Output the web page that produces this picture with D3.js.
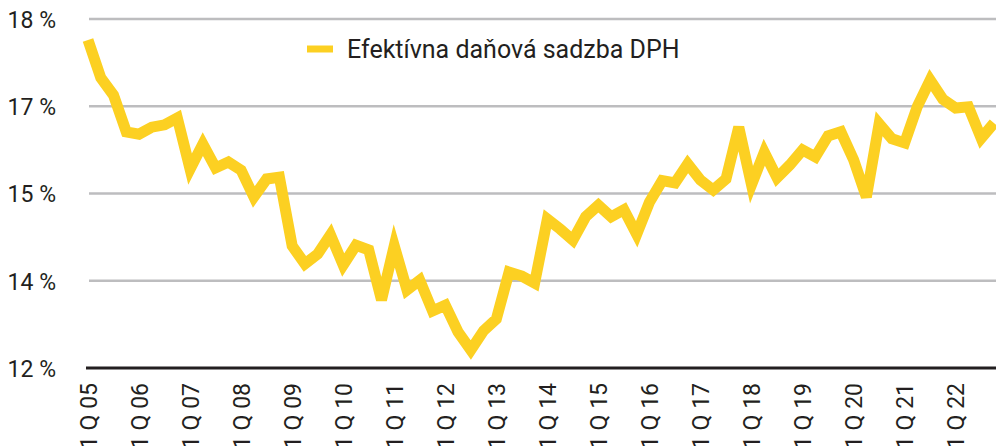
<!DOCTYPE html>
<html>
<head>
<meta charset="utf-8">
<script src="https://cdn.jsdelivr.net/npm/d3@7"></script>
<style>
  body { margin: 0; background: #fff; }
  svg { display: block; font-family: Roboto, "DejaVu Sans", sans-serif; }
</style>
</head>
<body>
<div class="chart"></div>
<script>
// years shown on the x axis, one point per quarter
const years = d3.range(2005, 2023)
const quarters = years.flatMap(y => [1, 2, 3, 4].map(q => `${q} Q ${String(y).slice(2)}`))

// efektívna daňová sadzba DPH, %
const rate = [
  17.64, 16.99, 16.69, 16.06, 16.02, 16.14, 16.18, 16.30,
  15.42, 15.85, 15.44, 15.54, 15.40, 14.94, 15.25, 15.28,
  14.10, 13.79, 13.96, 14.29, 13.77, 14.11, 14.03, 13.17,
  14.10, 13.34, 13.51, 12.98, 13.08, 12.62, 12.31, 12.64,
  12.84, 13.65, 13.58, 13.46, 14.56, 14.39, 14.20, 14.60,
  14.80, 14.60, 14.72, 14.30, 14.85, 15.22, 15.18, 15.51,
  15.23, 15.06, 15.25, 16.14, 15.15, 15.71, 15.27, 15.49,
  15.75, 15.63, 15.99, 16.06, 15.58, 14.94, 16.20, 15.94,
  15.87, 16.50, 16.95, 16.62, 16.47, 16.49, 15.95, 16.21
]

const yTicks = [12, 13.5, 15, 16.5, 18]
const yTickLabels = ["12 %", "14 %", "15 %", "17 %", "18 %"]
const legendLabel = "Efektívna daňová sadzba DPH"

const w = 996
const h = 446
const left = 88
const baseY = 368
const topY = 19
const yellow = "#fcd022"

const xScale = d3.scalePoint().domain(quarters).range([left, left + 71 * 12.76])
const yScale = d3.scaleLinear().domain([12, 18]).range([baseY, topY])

const svg = d3.select(".chart").append("svg").attr("width", w).attr("height", h)

// grid
svg.append("g").selectAll("line")
  .data(yTicks.slice(1))
  .enter()
  .append("line")
  .attr("x1", 89).attr("x2", w)
  .attr("y1", d => yScale(d)).attr("y2", d => yScale(d))
  .attr("stroke", "#bdbdbf")
  .attr("stroke-width", 2.5)

// y labels
const yAxis = d3.axisLeft(yScale).tickValues(yTicks).tickSize(0).tickPadding(0)
  .tickFormat((d, i) => yTickLabels[i])
const gy = svg.append("g").attr("transform", "translate(56,0)").call(yAxis)
gy.select(".domain").remove()
gy.selectAll("text").attr("font-size", 23).attr("fill", "#231f20").attr("dy", "0.36em")
  .attr("font-family", "Roboto")

// x axis with vertical quarter labels
const xAxis = d3.axisBottom(xScale).tickSize(0).tickPadding(0)
  .tickValues(quarters.filter((d, i) => i % 4 === 0))
const gx = svg.append("g").attr("transform", `translate(0,${baseY})`).call(xAxis)
gx.select(".domain").remove()
gx.selectAll("text")
  .attr("font-size", 23)
  .attr("font-family", "Roboto")
  .attr("fill", "#231f20")
  .attr("text-anchor", "end")
  .attr("transform", "rotate(-90)")
  .attr("x", -15)
  .attr("y", 0)
  .attr("dy", "0.36em")

svg.append("line")
  .attr("x1", 86).attr("x2", w)
  .attr("y1", baseY).attr("y2", baseY)
  .attr("stroke", "#231f20")
  .attr("stroke-width", 3)

// series
const line = d3.line().x((d, i) => xScale(quarters[i])).y(d => yScale(d))
svg.append("path")
  .datum(rate)
  .attr("d", line)
  .attr("fill", "none")
  .attr("stroke", yellow)
  .attr("stroke-width", 11)
  .attr("stroke-linejoin", "miter")

// legend
const lg = svg.append("g").attr("transform", "translate(307,49)")
lg.append("line").attr("x1", 0).attr("x2", 26).attr("stroke", yellow).attr("stroke-width", 7)
lg.append("text").attr("x", 40).attr("dy", "0.36em")
  .attr("font-size", 25).attr("fill", "#231f20")
  .text(legendLabel)
</script>
</body>
</html>
